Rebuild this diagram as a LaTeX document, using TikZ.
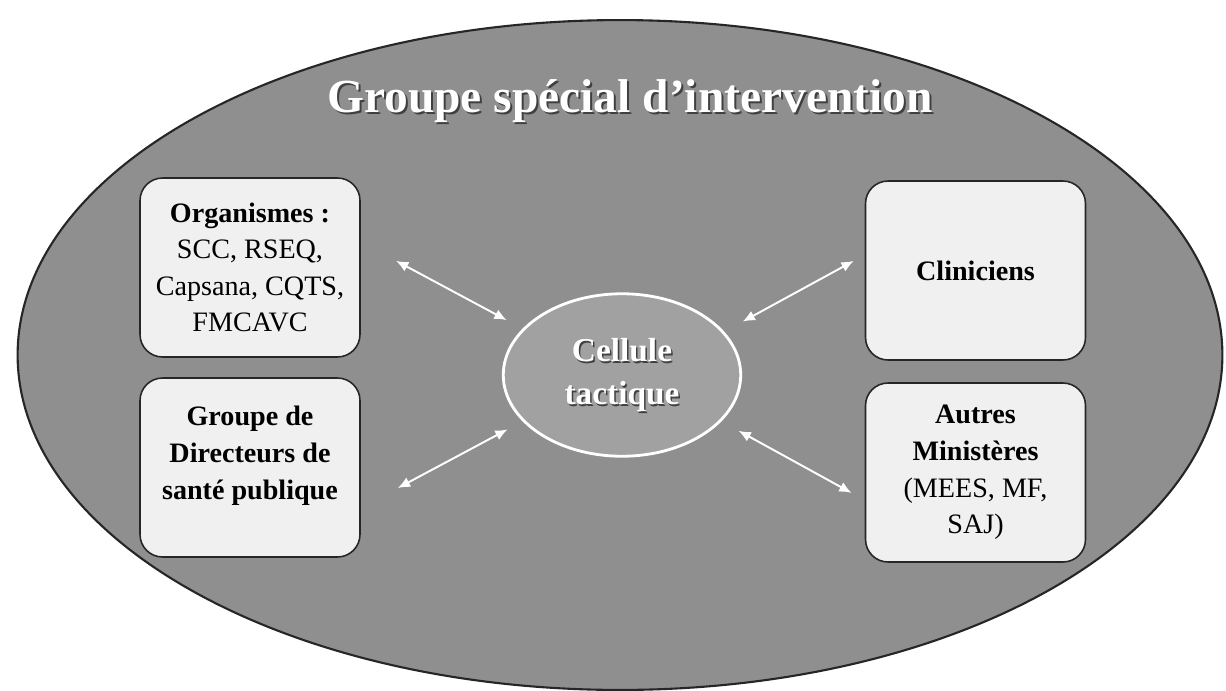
\documentclass[tikz,border=0pt]{standalone}
\usepackage{fontspec}
\setmainfont{Liberation Serif}
\usetikzlibrary{shapes.geometric,arrows.meta}
\definecolor{bgGray}{gray}{0.56}
\definecolor{boxGray}{gray}{0.94}
\definecolor{cellGray}{gray}{0.63}
\definecolor{shadeGray}{gray}{0.25}

\begin{document}
\begin{tikzpicture}
[x=0.02cm,y=-0.02cm,
roundBox/.style={rectangle,rounded corners=0.45cm,draw=black!85,fill=boxGray,
line width=0.9pt,minimum width=4.4cm,minimum height=3.58cm,align=center,
font=\fontsize{16}{20.8}\selectfont,inner sep=2pt},
twoWay/.style={{Latex[length=7pt,width=6pt]}-{Latex[length=7pt,width=6pt]},
draw=white,line width=1.1pt}]
  \useasboundingbox (0,0) rectangle (1226,690);
  \node[ellipse,draw=black!85,fill=bgGray,line width=1.2pt,
    minimum width=24.1cm,minimum height=13.4cm] (groupOFellipse) at (620,355) {};
  \node[font=\fontsize{27}{30}\selectfont\bfseries,text=shadeGray] (titleOFshadow) at (632,103) {Groupe spécial d’intervention};
  \node[font=\fontsize{27}{30}\selectfont\bfseries,text=white] (titleOFgroup) at (630,101) {Groupe spécial d’intervention};
  \node[roundBox] (orgOFbox) at (250,267.5) {\textbf{Organismes :}\\SCC, RSEQ,\\Capsana, CQTS,\\FMCAVC};
  \node[roundBox,font=\fontsize{16}{20.8}\selectfont\bfseries] (dirOFbox) at (250,467.5) {Groupe de\\Directeurs de\\santé publique\\[-4pt]\mbox{}};
  \node[roundBox,font=\fontsize{16}{20.8}\selectfont\bfseries] (clinOFbox) at (975.5,270.5) {Cliniciens};
  \node[roundBox] (minOFbox) at (975.5,472.5) {\textbf{Autres}\\\textbf{Ministères}\\(MEES, MF,\\SAJ)};
  \node[ellipse,draw=white,fill=cellGray,line width=1.6pt,
    minimum width=4.75cm,minimum height=3.25cm] (cellOFtactic) at (622,375) {};
  \node[font=\fontsize{19}{24.5}\selectfont\bfseries,text=shadeGray,align=center] (cellOFshadow) at (623.5,376.5) {Cellule\\tactique};
  \node[font=\fontsize{19}{24.5}\selectfont\bfseries,text=white,align=center] (cellOFtext) at (cellOFtactic) {Cellule\\tactique};
  \draw[twoWay,shorten <=0.8cm,shorten >=0.36cm] (orgOFbox.13.5) -- (cellOFtactic.155);
  \draw[twoWay,shorten <=0.84cm,shorten >=0.34cm] (dirOFbox.-20) -- (cellOFtactic.205);
  \draw[twoWay,shorten <=0.25cm,shorten >=0.42cm] (clinOFbox.172) -- (cellOFtactic.23);
  \draw[twoWay,shorten <=0.3cm,shorten >=0.39cm] (minOFbox.194) -- (cellOFtactic.335);
\end{tikzpicture}
\end{document}
